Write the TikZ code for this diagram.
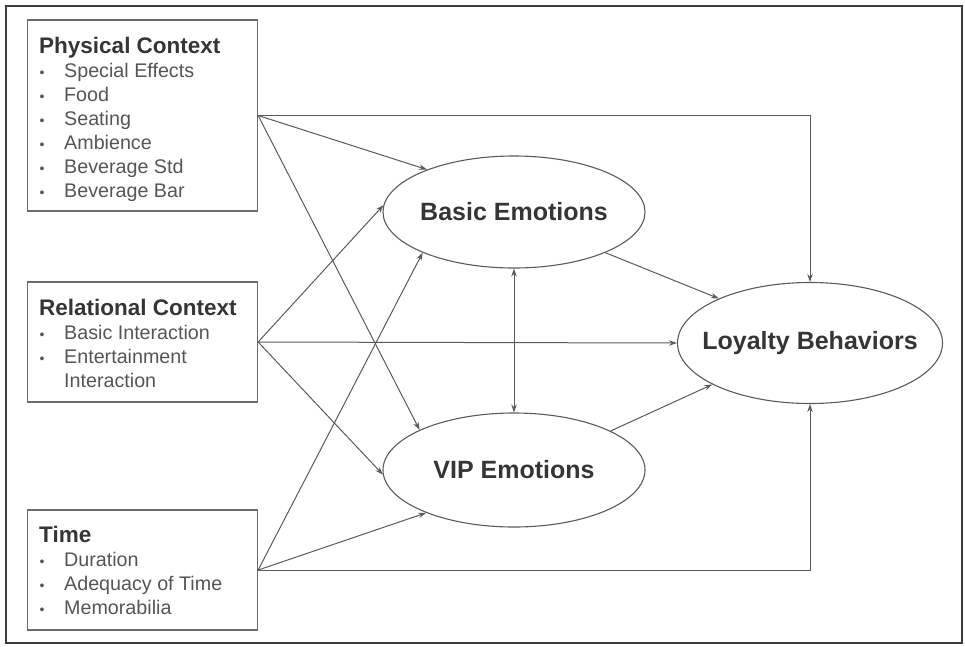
\documentclass[tikz,border=0pt]{standalone}
\usepackage{fontspec}
\setmainfont{Liberation Sans}
\usetikzlibrary{arrows.meta,shapes.geometric}
\definecolor{ttlc}{HTML}{353535}
\definecolor{itmc}{HTML}{555555}
\definecolor{linec}{HTML}{5A5A5A}
\definecolor{framec}{HTML}{3C3C3C}
\begin{document}
\begin{tikzpicture}[x=1pt,y=-1pt,
  frame/.style={draw=framec,line width=2.4pt},
  box/.style={draw=linec!90,line width=1.3pt,rectangle,inner sep=0pt},
  ttl/.style={anchor=base west,inner sep=0pt,text=ttlc,font=\fontsize{22.5}{27}\selectfont\bfseries},
  itm/.style={anchor=base west,inner sep=0pt,text=itmc,font=\fontsize{19.7}{24}\selectfont},
  bul/.style={anchor=base,inner sep=0pt,text=itmc,font=\fontsize{14}{16}\selectfont},
  emo/.style={draw=linec,line width=1.1pt,ellipse,inner sep=0pt,text=ttlc,font=\fontsize{25}{30}\selectfont\bfseries},
  conn/.style={draw=linec,line width=1pt,-{Stealth[length=8pt,width=5.5pt]}},
  conn2/.style={draw=linec,line width=1pt,{Stealth[length=8pt,width=5.5pt]}-{Stealth[length=8pt,width=5.5pt]}}
]
\useasboundingbox (0,0) rectangle (965,646);
\draw[frame] (6,6) rectangle (962,643);

% boxes
\node[box,minimum width=230pt,minimum height=191pt] (pc) at (142.5,115.5) {};
\node[box,minimum width=230pt,minimum height=120pt] (rc) at (142.5,342) {};
\node[box,minimum width=230pt,minimum height=120pt] (tc) at (142.5,570) {};

% physical context text
\node[ttl] (pct) at (39,53) {Physical Context};
\foreach \t [count=\i] in {Special Effects,Food,Seating,Ambience,Beverage Std,Beverage Bar}{
  \node[bul] (pcb\i) at (42,{77+24*(\i-1)}) {•};
  \node[itm] (pci\i) at (64,{77+24*(\i-1)}) {\t};
}
% relational context text
\node[ttl] (rct) at (39,315) {Relational Context};
\node[bul] (rcb1) at (42,339) {•};
\node[itm] (rci1) at (64,339) {Basic Interaction};
\node[bul] (rcb2) at (42,363) {•};
\node[itm] (rci2) at (64,363) {Entertainment};
\node[itm] (rci3) at (64,387) {Interaction};
% time text
\node[ttl] (tct) at (39,542) {Time};
\foreach \t [count=\i] in {Duration,Adequacy of Time,Memorabilia}{
  \node[bul] (tcb\i) at (42,{566+24*(\i-1)}) {•};
  \node[itm] (tci\i) at (64,{566+24*(\i-1)}) {\t};
}

% ellipses
\node[emo,minimum width=262pt,minimum height=112pt] (basic) at (514,212) {\makebox[0pt]{Basic Emotions}};
\node[emo,minimum width=262pt,minimum height=114pt] (vip) at (514,470) {\makebox[0pt]{VIP Emotions}};
\node[emo,minimum width=265pt,minimum height=121pt] (loyal) at (810,343) {\makebox[0pt]{Loyalty Behaviors}};

% connectors
\draw[conn] (pc.east) -- (basic.154);
\draw[conn] (pc.east) -- (vip.157);
\draw[conn] (pc.east) -| (loyal.north);
\draw[conn] (rc.east) -- (basic.177);
\draw[conn] (rc.east) -- (loyal.west);
\draw[conn] (rc.east) -- (vip.182);
\draw[conn] (tc.east) -- (basic.204.6);
\draw[conn] (tc.east) -- (vip.206.6);
\draw[conn] (tc.east) -| (loyal.south);
\draw[conn2] (basic.south) -- (vip.north);
\draw[conn] (basic.336.7) -- (loyal.154.2);
\draw[conn] (vip.22.2) -- (loyal.203.8);
\end{tikzpicture}
\end{document}
